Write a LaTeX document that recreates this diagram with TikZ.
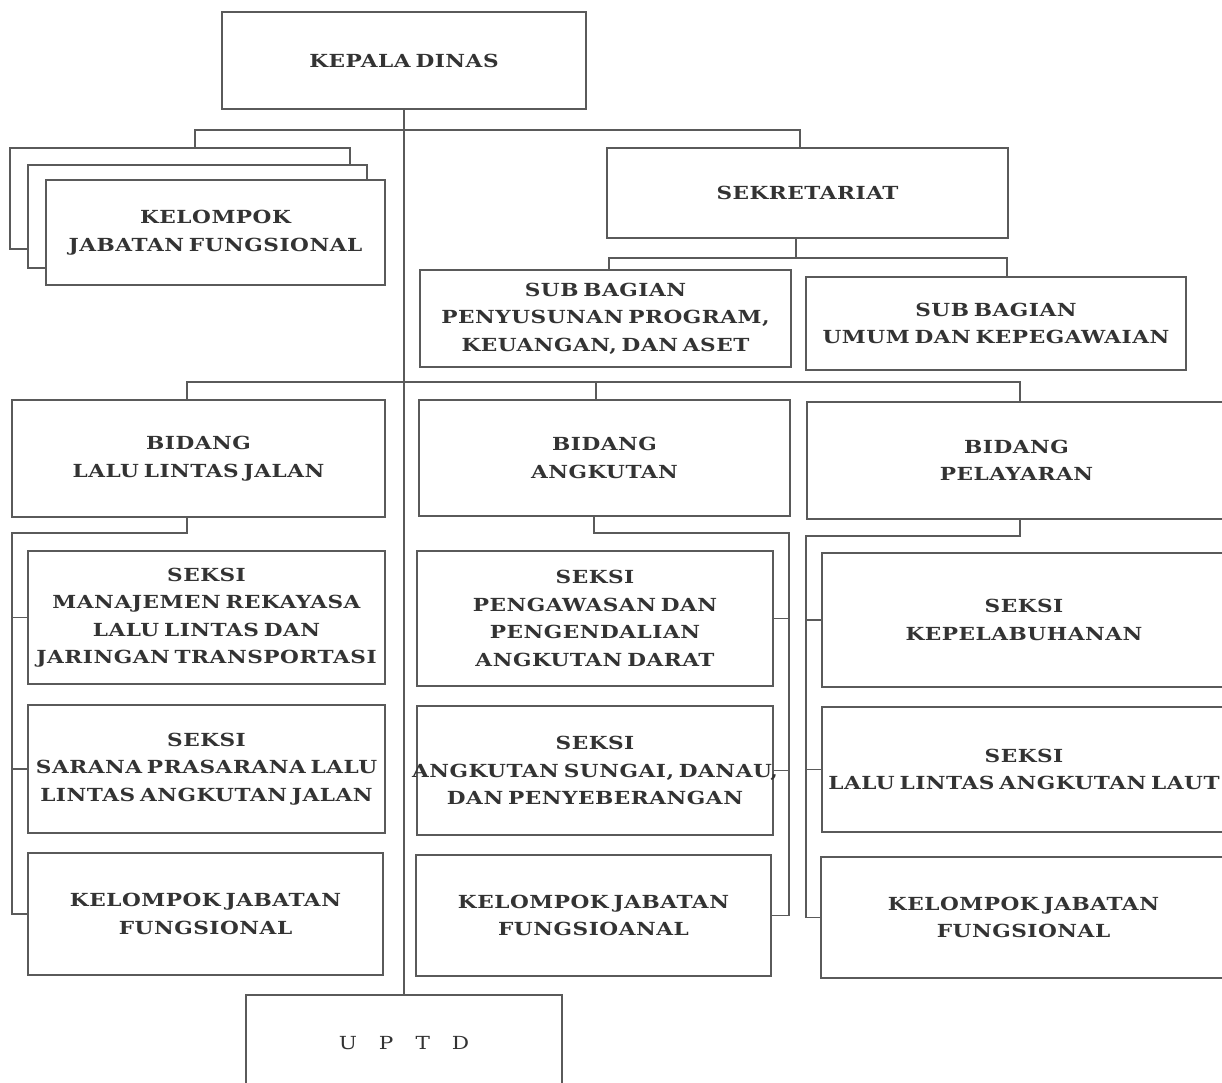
\documentclass[tikz,border=0pt]{standalone}
\usepackage{fontspec}
\setmainfont{DejaVu Serif}[FakeStretch=1.2, WordSpace=0.6, LetterSpace=3]
\definecolor{linegray}{HTML}{5A5A5A}
\definecolor{textgray}{HTML}{333333}
\tikzset{
  box/.style={draw=linegray, line width=1.4pt, fill=white, rectangle, align=center,
    text=textgray, inner sep=0pt, outer sep=0pt,
    font=\bfseries\fontsize{18}{27.5}\selectfont},
  conn/.style={draw=linegray, line width=1.3pt},
}
\newcommand\orgbox[6]{%
  \node[box, minimum width={(#4-#2)*1pt}, minimum height={(#5-#3)*1pt}]
    (#1) at ({(#2+#4)/2},{(#3+#5)/2}) {#6};}
\begin{document}
\begin{tikzpicture}[x=1pt,y=-1pt]
\useasboundingbox[fill=white] (0,0) rectangle (1222,1082);
% head and UPTD with the trunk
\orgbox{kd}{222}{12}{586}{109}{KEPALA DINAS}
\orgbox{uptd}{246}{995}{562}{1095}{\raisebox{4pt}{\mdseries U\hspace{22pt}P\hspace{22pt}T\hspace{22pt}D}}
\draw[conn] (kd.south) -- (uptd.north);
% top level
\coordinate (h1L) at (195,130);
\coordinate (h1R) at (800,130);
\orgbox{kjfA}{10}{148}{350}{249}{}
\orgbox{kjfB}{28}{165}{367}{268}{}
\orgbox{kjfC}{46}{180}{385}{285}{KELOMPOK\\JABATAN FUNGSIONAL}
\orgbox{sek}{607}{148}{1008}{238}{SEKRETARIAT}
\draw[conn] (kjfA.north -| h1L) -- (h1L) -- (h1R) -- (sek.north -| h1R);
% sekretariat
\coordinate (h2) at (796,258);
\coordinate (h2L) at (609,258);
\coordinate (h2R) at (1007,258);
\orgbox{sb1}{420}{270}{791}{367}{SUB BAGIAN\\PENYUSUNAN PROGRAM,\\KEUANGAN, DAN ASET}
\orgbox{sb2}{806}{277}{1186}{370}{SUB BAGIAN\\UMUM DAN KEPEGAWAIAN}
\draw[conn] (sek.south -| h2) -- (h2);
\draw[conn] (sb1.north -| h2L) -- (h2L) -- (h2R) -- (sb2.north -| h2R);
% bidang
\coordinate (h3L) at (187,382);
\coordinate (h3M) at (596,382);
\coordinate (h3R) at (1020,382);
\orgbox{bid1}{12}{400}{385}{517}{BIDANG\\LALU LINTAS JALAN}
\orgbox{bid2}{419}{400}{790}{516}{BIDANG\\ANGKUTAN}
\orgbox{bid3}{807}{402}{1226}{519}{BIDANG\\PELAYARAN}
\draw[conn] (bid1.north -| h3L) -- (h3L) -- (h3R) -- (bid3.north -| h3R);
\draw[conn] (h3M) -- (bid2.north -| h3M);
% seksi LLJ
\orgbox{s11}{28}{551}{385}{684}{SEKSI\\MANAJEMEN REKAYASA\\LALU LINTAS DAN\\JARINGAN TRANSPORTASI}
\orgbox{s12}{28}{705}{385}{833}{SEKSI\\SARANA PRASARANA LALU\\LINTAS ANGKUTAN JALAN}
\orgbox{s13}{28}{853}{383}{975}{KELOMPOK JABATAN\\FUNGSIONAL}
\coordinate (b1d) at (187,533);
\coordinate (b1L) at (12,533);
\draw[conn] (bid1.south -| b1d) -- (b1d) -- (b1L) |- (s13.west);
\draw[conn] (b1L |- s11.west) -- (s11.west);
\draw[conn] (b1L |- s12.west) -- (s12.west);
% seksi Angkutan
\orgbox{s21}{417}{551}{773}{686}{SEKSI\\PENGAWASAN DAN\\PENGENDALIAN\\ANGKUTAN DARAT}
\orgbox{s22}{417}{706}{773}{835}{SEKSI\\\makebox[300pt]{ANGKUTAN SUNGAI, DANAU,}\\DAN PENYEBERANGAN}
\orgbox{s23}{416}{855}{771}{976}{KELOMPOK JABATAN\\FUNGSIOANAL}
\coordinate (b2d) at (594,533);
\coordinate (b2R) at (789,533);
\draw[conn] (bid2.south -| b2d) -- (b2d) -- (b2R) |- (s23.east);
\draw[conn] (b2R |- s21.east) -- (s21.east);
\draw[conn] (b2R |- s22.east) -- (s22.east);
% seksi Pelayaran
\orgbox{s31}{822}{553}{1226}{687}{SEKSI\\KEPELABUHANAN}
\orgbox{s32}{822}{707}{1226}{832}{SEKSI\\LALU LINTAS ANGKUTAN LAUT}
\orgbox{s33}{821}{857}{1226}{978}{KELOMPOK JABATAN\\FUNGSIONAL}
\coordinate (b3d) at (1020,536);
\coordinate (b3L) at (806,536);
\draw[conn] (bid3.south -| b3d) -- (b3d) -- (b3L) |- (s33.west);
\draw[conn] (b3L |- s31.west) -- (s31.west);
\draw[conn] (b3L |- s32.west) -- (s32.west);
\end{tikzpicture}
\end{document}
